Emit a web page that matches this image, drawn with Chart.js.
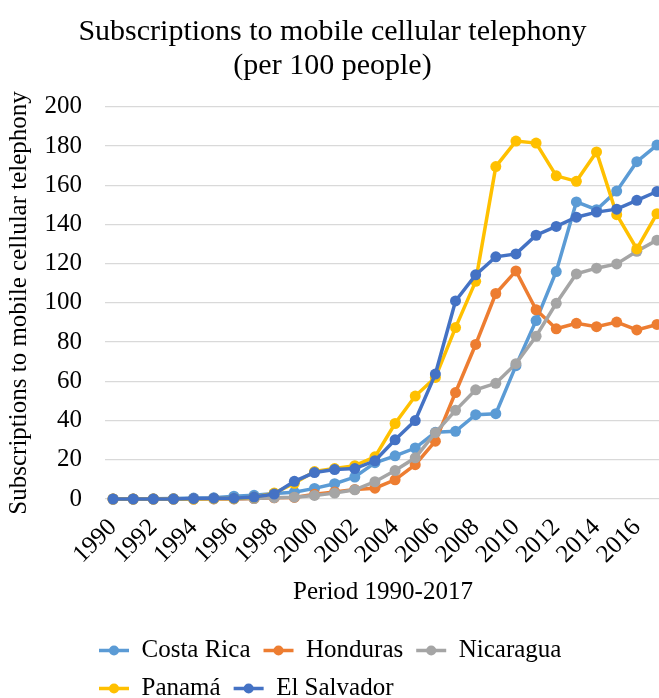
<!DOCTYPE html>
<html>
<head>
<meta charset="utf-8">
<title>Subscriptions to mobile cellular telephony</title>
<script src="https://cdn.jsdelivr.net/npm/chart.js@4.4.1/dist/chart.umd.min.js"></script>
<style>
  html, body { margin: 0; padding: 0; overflow: hidden; background: #fff; }
  #wrap { width: 684px; height: 711px; }
</style>
</head>
<body>
<div id="wrap"><canvas id="chart"></canvas></div>
<script>
// years on the x axis and the labelled ones
const years = [1990, 1991, 1992, 1993, 1994, 1995, 1996, 1997, 1998, 1999,
  2000, 2001, 2002, 2003, 2004, 2005, 2006, 2007, 2008, 2009,
  2010, 2011, 2012, 2013, 2014, 2015, 2016, 2017];
const yearTicks = [1990, 1992, 1994, 1996, 1998, 2000, 2002, 2004, 2006, 2008, 2010, 2012, 2014, 2016];
const valueTicks = [0, 20, 40, 60, 80, 100, 120, 140, 160, 180, 200];

// subscriptions per 100 people
const costaRica = [0, 0.05, 0.1, 0.2, 0.5, 0.6, 1.4, 1.9, 2.8, 3.5, 5.4, 7.8, 11.2, 18.5,
  22, 26, 34, 34.5, 43, 43.5, 68, 91, 116, 151.5, 147.5, 157, 172, 180.5];
const honduras = [0, 0, 0, 0, 0, 0.03, 0.04, 0.2, 0.6, 0.8, 2.4, 3.6, 4.9, 5.5,
  9.8, 17.5, 29.5, 54.3, 78.8, 104.8, 116.3, 96.5, 86.8, 89.6, 87.9, 90.2, 86.2, 89];
const nicaragua = [0, 0, 0, 0, 0, 0.1, 0.1, 0.2, 0.7, 0.9, 1.8, 3, 4.7, 8.8,
  14.5, 21, 33.8, 45.2, 55.7, 59, 69, 83, 99.8, 114.8, 117.7, 119.9, 126.3, 132];
const panama = [0, 0, 0, 0, 0, 0.3, 0.3, 0.9, 3, 8, 14, 15.5, 17, 21.5,
  38.5, 52.5, 62, 87.4, 111, 169.5, 182.5, 181.5, 164.8, 162, 177, 145, 127.5, 145.5];
const elSalvador = [0, 0, 0, 0, 0.2, 0.4, 0.4, 1, 2.5, 9, 13.5, 15, 15.5, 19.5,
  30.2, 40, 63.7, 101, 114.3, 123.5, 125, 134.5, 139, 143.7, 146.3, 147.8, 152.3, 156.8];

const seriesNames = ["Costa Rica", "Honduras", "Nicaragua", "Panamá", "El Salvador"];
const seriesValues = [costaRica, honduras, nicaragua, panama, elSalvador];
const seriesColors = ["#5B9BD5", "#ED7D31", "#A5A5A5", "#FFC000", "#4472C4"];

const serif = "'Liberation Serif', 'Times New Roman', serif";
Chart.defaults.font.family = serif;
Chart.defaults.color = "#000";

// legend: nudge it left under the axis labels, and put a dot on each line sample
const legendMarkers = {
  id: "legendMarkers",
  afterLayout(chart) {
    const legend = chart.legend;
    if (!legend) return;
    legend.left -= 19;
    legend.right -= 19;
  },
  afterDraw(chart) {
    const legend = chart.legend;
    if (!legend || !legend.legendHitBoxes) return;
    const ctx = chart.ctx;
    const bw = legend.options.labels.boxWidth;
    legend.legendHitBoxes.forEach((box, i) => {
      const item = legend.legendItems[i];
      ctx.save();
      ctx.fillStyle = item.strokeStyle;
      ctx.beginPath();
      ctx.arc(box.left + bw / 2, box.top + box.height / 2, 5, 0, Math.PI * 2);
      ctx.fill();
      ctx.restore();
    });
  }
};

const datasets = seriesNames.map((name, k) => ({
  label: name,
  data: years.map((yr, i) => ({ x: yr, y: seriesValues[k][i] })),
  borderColor: seriesColors[k],
  backgroundColor: seriesColors[k],
  pointBackgroundColor: seriesColors[k],
  pointBorderWidth: 0,
  pointRadius: 5.5,
  borderWidth: 3.5,
  tension: 0,
  clip: false,
  // later series are painted on top, as in the original
  order: seriesNames.length - 1 - k
}));

new Chart(document.getElementById("chart"), {
  type: "line",
  data: { datasets },
  plugins: [legendMarkers],
  options: {
    responsive: true,
    maintainAspectRatio: false,
    animation: false,
    layout: { padding: { left: 4, right: 23, top: 0, bottom: 0 } },
    scales: {
      x: {
        type: "linear",
        min: 1989.6,
        max: 2017.2,
        afterBuildTicks: scale => { scale.ticks = yearTicks.map(v => ({ value: v })); },
        afterFit: scale => { scale.height = 126; },
        grid: { display: false },
        border: { display: false },
        ticks: {
          autoSkip: false,
          minRotation: 45,
          maxRotation: 45,
          padding: 6,
          font: { size: 25 },
          callback: v => String(v)
        },
        title: {
          display: true,
          text: "Period 1990-2017",
          font: { size: 25 },
          padding: { top: 4, bottom: 18 }
        }
      },
      y: {
        min: 0,
        max: 200,
        afterBuildTicks: scale => { scale.ticks = valueTicks.map(v => ({ value: v })); },
        afterFit: scale => { scale.width = 101; },
        grid: { color: "#D9D9D9", lineWidth: 1.3, drawTicks: false },
        border: { display: false },
        ticks: { padding: 23, font: { size: 25 } },
        title: {
          display: true,
          text: "Subscriptions to mobile cellular telephony",
          font: { size: 25 },
          padding: { top: 0, bottom: 0 }
        }
      }
    },
    plugins: {
      title: {
        display: true,
        text: ["Subscriptions to mobile cellular telephony", "(per 100 people)"],
        font: { size: 30, weight: "normal", lineHeight: 1.13 },
        color: "#000",
        padding: { top: 15, bottom: 24 }
      },
      legend: {
        position: "bottom",
        align: "start",
        fullSize: false,
        labels: {
          boxWidth: 30,
          boxHeight: 0,
          padding: 13,
          font: { size: 25 },
          color: "#000",
          sort: (a, b) => a.datasetIndex - b.datasetIndex
        }
      },
      tooltip: { enabled: false }
    }
  }
});
</script>
</body>
</html>
